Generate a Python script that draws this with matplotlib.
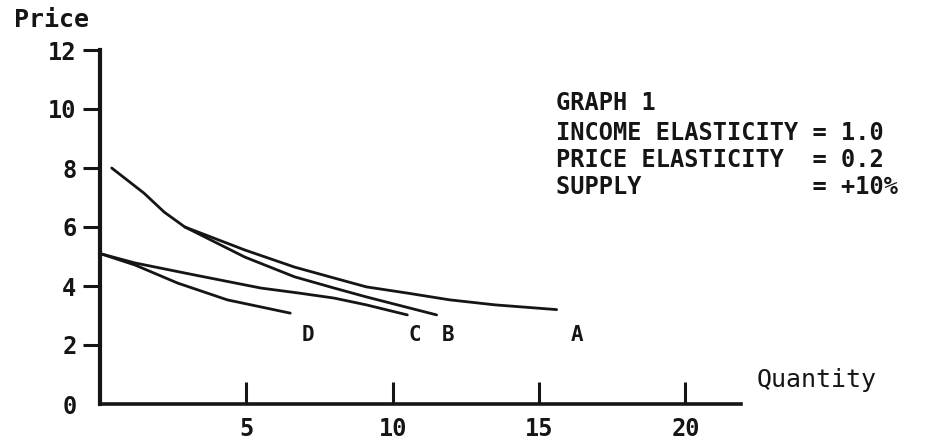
import matplotlib.pyplot as plt

plt.rcParams["font.family"] = ["DejaVu Sans Mono", "DejaVu Sans"]

# Curve points (quantity, price)
a_qty = [0.4, 1.5, 2.2, 2.9, 4.95, 6.65, 8.0, 9.1, 10.5, 11.95, 13.5, 15.6]
a_price = [8.0, 7.15, 6.5, 6.0, 5.22, 4.64, 4.27, 3.97, 3.76, 3.53, 3.36, 3.2]

b_qty = [2.9, 4.95, 6.65, 8.0, 9.1, 11.5]
b_price = [6.0, 4.98, 4.31, 3.93, 3.63, 3.02]

c_qty = [0.0, 1.2, 3.25, 5.5, 6.8, 8.0, 9.1, 10.5]
c_price = [5.1, 4.78, 4.37, 3.93, 3.76, 3.59, 3.36, 3.02]

d_qty = [0.0, 1.2, 2.65, 4.35, 6.5]
d_price = [5.1, 4.71, 4.1, 3.53, 3.08]

curve_labels = ["A", "B", "C", "D"]
label_qty = [16.3, 11.9, 10.75, 7.1]
label_price = [2.35, 2.35, 2.35, 2.35]

x_ticks = [5, 10, 15, 20]
y_ticks = [0, 2, 4, 6, 8, 10, 12]

info_lines = [
    "GRAPH 1",
    "INCOME ELASTICITY = 1.0",
    "PRICE ELASTICITY  = 0.2",
    "SUPPLY            = +10%",
]

W, H = 946, 443
fig = plt.figure(figsize=(W / 100, H / 100), dpi=100)
# axes box in pixels: x from 100 to 741, y from 404 (bottom) to 50 (top)
ax = fig.add_axes([100 / W, (H - 404) / H, 641 / W, 354 / H])

ink = "#151515"
for q, p in [(a_qty, a_price), (b_qty, b_price), (c_qty, c_price), (d_qty, d_price)]:
    ax.plot(q, p, color=ink, lw=2.0, solid_capstyle="round", solid_joinstyle="round")

for lab, q, p in zip(curve_labels, label_qty, label_price):
    ax.text(q, p, lab, fontsize=15, fontweight="bold", ha="center", va="center", color=ink)

ax.set_xlim(0, 21.9)
ax.set_ylim(0, 12)

for side in ["top", "right"]:
    ax.spines[side].set_visible(False)
ax.spines["left"].set_linewidth(3)
ax.spines["bottom"].set_linewidth(2.6)
ax.spines["left"].set_color(ink)
ax.spines["bottom"].set_color(ink)

ax.set_xticks(x_ticks)
ax.set_yticks(y_ticks)
ax.tick_params(axis="x", direction="in", length=16, width=2.2, pad=9,
               labelsize=17, colors=ink)
ax.tick_params(axis="y", direction="out", length=12, width=2.2, pad=5,
               labelsize=17, colors=ink)
for lbl in ax.get_xticklabels() + ax.get_yticklabels():
    lbl.set_fontweight("bold")
# no tick mark at 0 on the y axis
ax.yaxis.get_major_ticks()[0].tick1line.set_visible(False)

fig.text(14 / W, 1 - 20 / H, "Price", fontsize=18, fontweight="bold",
         va="center", ha="left", color=ink)
fig.text(757 / W, 1 - 380 / H, "Quantity", fontsize=18,
         va="center", ha="left", color=ink)

row_y = [103, 133, 160, 187]
for txt, y in zip(info_lines, row_y):
    fig.text(556 / W, 1 - y / H, txt, fontsize=17, fontweight="bold",
             va="center", ha="left", color=ink)

fig.savefig("out.png", dpi=100)
